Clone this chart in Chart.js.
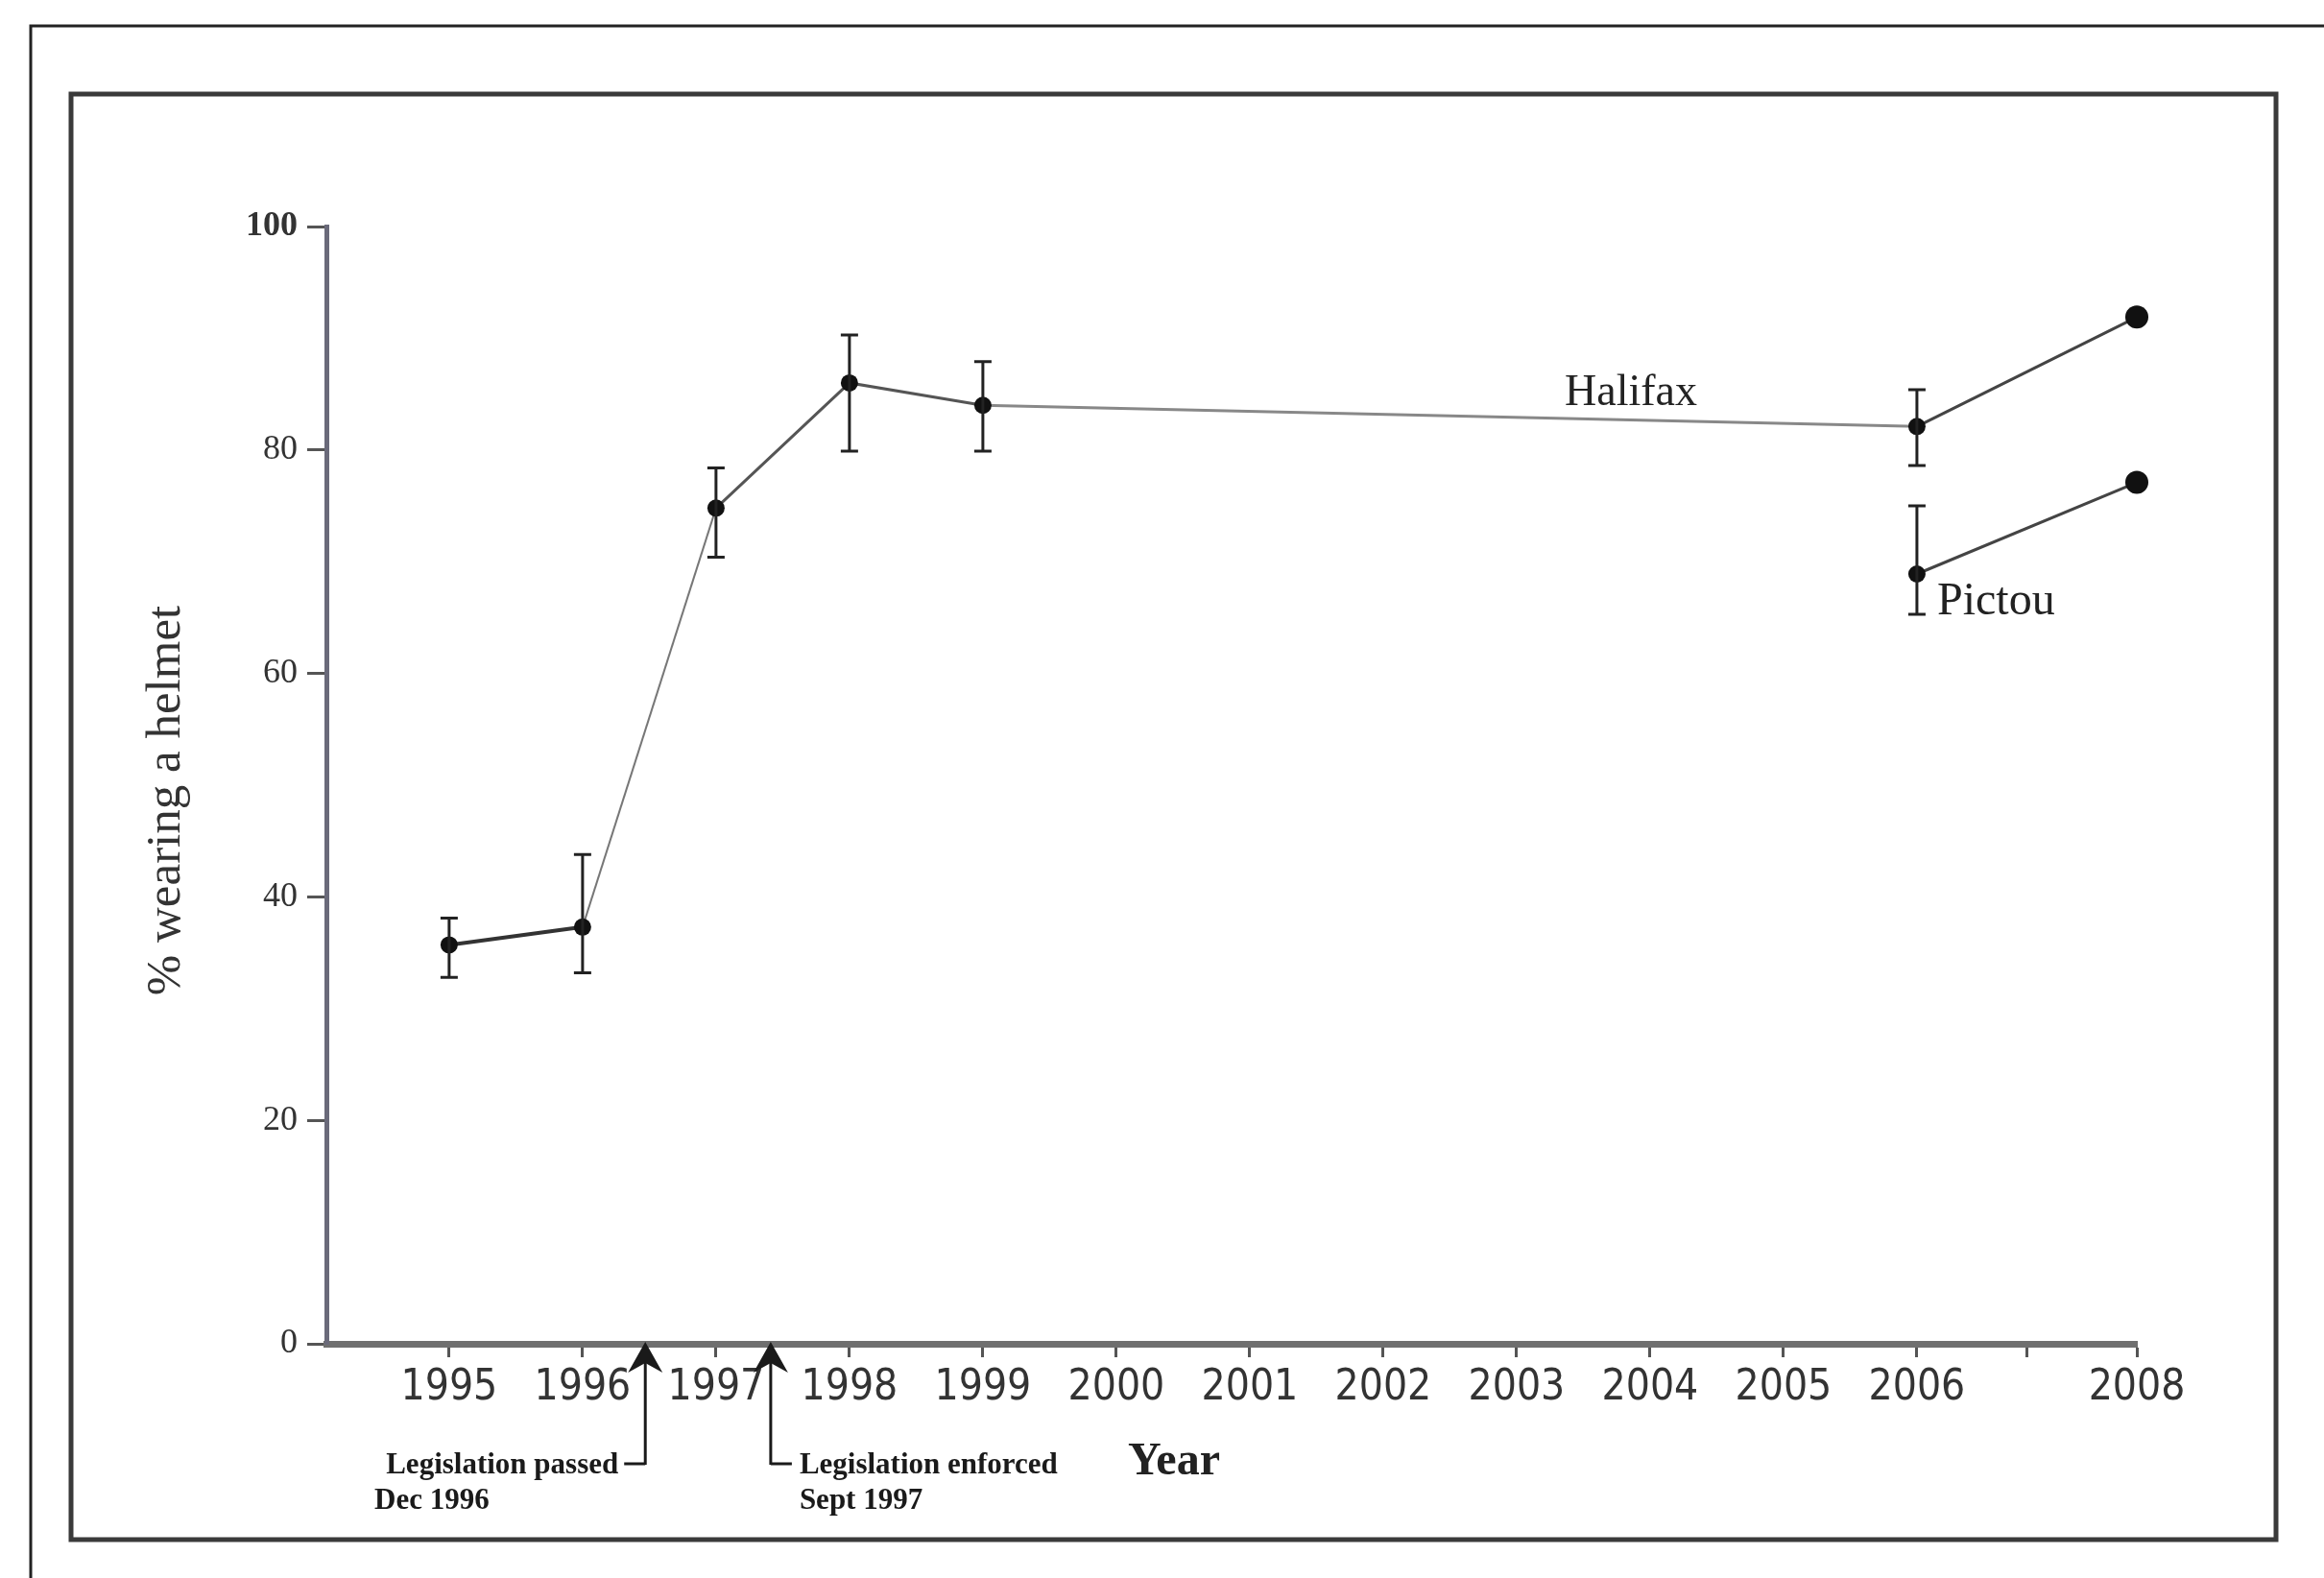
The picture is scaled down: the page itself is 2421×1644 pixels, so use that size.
<!DOCTYPE html>
<html>
<head>
<meta charset="utf-8">
<script src="https://cdn.jsdelivr.net/npm/chart.js@4.4.1/dist/chart.umd.min.js"></script>
<style>
  body { margin: 0; background: #fff; }
  #HelmetChart { display: block; }
</style>
</head>
<body>
<canvas id="HelmetChart" width="2421" height="1644"></canvas>
<script>
// values
var halifaxYears = [1995, 1996, 1997, 1998, 1999, 2006, 2008];
var halifaxValues = [35.7, 37.3, 74.8, 86.0, 84.0, 82.1, 91.9];
var halifaxLow = [32.8, 33.2, 70.4, 79.9, 79.9, 78.6, null];
var halifaxHigh = [38.1, 43.8, 78.4, 90.3, 87.9, 85.4, null];

var pictouYears = [2006, 2008];
var pictouValues = [68.9, 77.1];
var pictouLow = [65.3, null];
var pictouHigh = [75.0, null];

var tickYears = [1995, 1996, 1997, 1998, 1999, 2000, 2001, 2002, 2003, 2004, 2005, 2006, 2007, 2008];
var yTicks = [0, 20, 40, 60, 80, 100];

// where the legislation arrows sit on the year axis
var arrowYears = [1996.47, 1997.41];

// the axis is squeezed after 2006 in the original
var breakYear = 2006;
var squeeze = 0.824;

class BrokenYearScale extends Chart.LinearScale {
    getPixelForValue(value) {
        if (value > breakYear) value = breakYear + (value - breakYear) * squeeze;
        return super.getPixelForValue(value);
    }
}
BrokenYearScale.id = 'brokenYear';
BrokenYearScale.defaults = {};
Chart.register(BrokenYearScale);

function pairs(xs, ys) {
    return xs.map(function (x, i) { return { x: x, y: ys[i] }; });
}

var serif = "'Liberation Serif', 'DejaVu Serif', serif";
var narrow = "'Liberation Sans Narrow', 'DejaVu Sans Condensed', 'Liberation Sans', sans-serif";

var errorBars = {
    id: 'errorBars',
    afterDatasetsDraw: function (chart) {
        var x = chart.scales.x, y = chart.scales.y, c = chart.ctx;
        var sets = [[halifaxYears, halifaxLow, halifaxHigh], [pictouYears, pictouLow, pictouHigh]];
        c.save();
        c.strokeStyle = '#222';
        c.lineWidth = 3;
        sets.forEach(function (s) {
            s[0].forEach(function (yr, i) {
                if (s[1][i] == null) return;
                var px = x.getPixelForValue(yr);
                var lo = y.getPixelForValue(s[1][i]);
                var hi = y.getPixelForValue(s[2][i]);
                c.beginPath();
                c.moveTo(px, lo); c.lineTo(px, hi);
                c.moveTo(px - 9, lo); c.lineTo(px + 9, lo);
                c.moveTo(px - 9, hi); c.lineTo(px + 9, hi);
                c.stroke();
            });
        });
        c.restore();
    }
};

var decorations = {
    id: 'decorations',
    beforeDraw: function (chart) {
        var c = chart.ctx;
        c.save();
        c.fillStyle = '#fff';
        c.fillRect(0, 0, chart.width, chart.height);
        c.restore();
    },
    afterDraw: function (chart) {
        var c = chart.ctx, x = chart.scales.x, area = chart.chartArea;
        c.save();
        // frames of the scanned figure
        c.strokeStyle = '#222';
        c.lineWidth = 3;
        c.beginPath();
        c.moveTo(32, 1644); c.lineTo(32, 27); c.lineTo(2421, 27);
        c.stroke();
        c.strokeStyle = '#3a3a3a';
        c.lineWidth = 5;
        c.strokeRect(74, 98, 2297, 1506);

        // series labels
        c.fillStyle = '#222';
        c.textAlign = 'left';
        c.textBaseline = 'alphabetic';
        c.font = '46px ' + serif;
        c.fillText('Halifax', 1630, 422);
        c.font = '48px ' + serif;
        c.fillText('Pictou', 2018, 640);

        // axis titles
        c.font = 'bold 48px ' + serif;
        c.textAlign = 'center';
        c.fillText('Year', 1223, 1536);
        c.save();
        c.translate(174, 834);
        c.rotate(-Math.PI / 2);
        c.font = '51px ' + serif;
        c.fillStyle = '#333';
        c.textBaseline = 'middle';
        c.fillText('% wearing a helmet', 0, 0);
        c.restore();

        // legislation arrows
        var a1 = x.getPixelForValue(arrowYears[0]);
        var a2 = x.getPixelForValue(arrowYears[1]);
        var base = area.bottom;
        c.strokeStyle = '#1a1a1a';
        c.fillStyle = '#1a1a1a';
        c.lineWidth = 3;
        [a1, a2].forEach(function (ax) {
            c.beginPath();
            c.moveTo(ax, base + 4); c.lineTo(ax, 1526);
            c.stroke();
            c.beginPath();
            c.moveTo(ax, base - 2);
            c.lineTo(ax + 18, base + 30);
            c.lineTo(ax, base + 20);
            c.lineTo(ax - 18, base + 30);
            c.closePath();
            c.fill();
        });
        c.beginPath();
        c.moveTo(a1, 1525); c.lineTo(a1 - 22, 1525);
        c.moveTo(a2, 1525); c.lineTo(a2 + 22, 1525);
        c.stroke();

        c.font = 'bold 31px ' + serif;
        c.textAlign = 'right';
        c.fillText('Legislation passed', a1 - 28, 1535);
        c.textAlign = 'left';
        c.fillText('Dec 1996', 390, 1572);
        c.fillText('Legislation enforced', a2 + 30, 1535);
        c.fillText('Sept 1997', a2 + 30, 1572);
        c.restore();
    }
};

var ctx = document.getElementById('HelmetChart');

var HelmetChart = new Chart(ctx, {
    type: 'line',
    data: {
        datasets: [{
            label: 'Halifax',
            data: pairs(halifaxYears, halifaxValues),
            clip: false,
            borderColor: '#444',
            borderWidth: 3,
            pointRadius: [9, 9, 9, 9, 9, 9, 12],
            pointBackgroundColor: '#111',
            pointBorderColor: '#111',
            pointBorderWidth: 0,
            segment: {
                borderColor: function (s) {
                    return [ '#333', '#777', '#555', '#555', '#888', '#444' ][s.p0DataIndex];
                },
                borderWidth: function (s) {
                    return [4, 2, 3, 3, 3, 3][s.p0DataIndex];
                }
            }
        },
        {
            label: 'Pictou',
            data: pairs(pictouYears, pictouValues),
            clip: false,
            borderColor: '#444',
            borderWidth: 3,
            pointRadius: [9, 12],
            pointBackgroundColor: '#111',
            pointBorderColor: '#111',
            pointBorderWidth: 0
        }]
    },
    options: {
        responsive: false,
        animation: false,
        devicePixelRatio: 1,
        layout: { padding: { left: 0, right: 195, top: 236, bottom: 0 } },
        plugins: {
            legend: { display: false },
            tooltip: { enabled: false }
        },
        scales: {
            x: {
                type: 'brokenYear',
                min: 1994.08,
                max: breakYear + (2008 - breakYear) * squeeze,
                afterBuildTicks: function (scale) {
                    scale.ticks = tickYears.map(function (v) { return { value: v }; });
                },
                afterFit: function (scale) { scale.height = 244; },
                border: { display: true, color: '#6f6f6f', width: 7 },
                grid: { drawOnChartArea: false, drawTicks: true, tickLength: 14, tickWidth: 3, tickColor: '#555' },
                ticks: {
                    autoSkip: false,
                    maxRotation: 0,
                    padding: 6,
                    color: '#333',
                    font: { family: narrow, size: 44 },
                    callback: function (v) { return v === 2007 ? '' : String(v); }
                }
            },
            y: {
                min: 0,
                max: 100,
                afterBuildTicks: function (scale) {
                    scale.ticks = yTicks.map(function (v) { return { value: v }; });
                },
                afterFit: function (scale) { scale.width = 340; },
                border: { display: true, color: '#6a6a7a', width: 5 },
                grid: { drawOnChartArea: false, drawTicks: true, tickLength: 20, tickWidth: 3, tickColor: '#555' },
                ticks: {
                    padding: 10,
                    color: '#333',
                    font: function (c) {
                        return { family: serif, size: 36, weight: (c.tick && c.tick.value === 100) ? 'bold' : 'normal' };
                    }
                }
            }
        }
    },
    plugins: [errorBars, decorations]
});
</script>
</body>
</html>
